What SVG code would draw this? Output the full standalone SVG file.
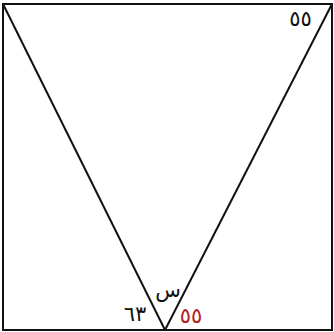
<svg xmlns="http://www.w3.org/2000/svg" width="334" height="332" viewBox="0 0 334 332">
<style>
.ln{stroke:#111;stroke-width:2;fill:none}
.t{font-family:"DejaVu Sans",sans-serif;font-size:21px;fill:#111}
.r{fill:#b22222}
</style>
<rect x="0" y="0" width="334" height="332" fill="#fff"/>
<g id="connectors">
<rect class="ln" x="3" y="4" width="329" height="326"/>
<line class="ln" x1="3" y1="4" x2="165" y2="330"/>
<line class="ln" x1="332" y1="4" x2="165" y2="330"/>
</g>
<g id="label-top"><text class="t" x="300.5" y="26" text-anchor="middle">٥٥</text></g>
<g id="label-s"><text class="t" x="168" y="297" text-anchor="middle">س</text></g>
<g id="label-63"><text class="t" x="135" y="321" text-anchor="middle">٦٣</text></g>
<g id="label-55"><text class="t r" x="191" y="323" text-anchor="middle">٥٥</text></g>
</svg>
